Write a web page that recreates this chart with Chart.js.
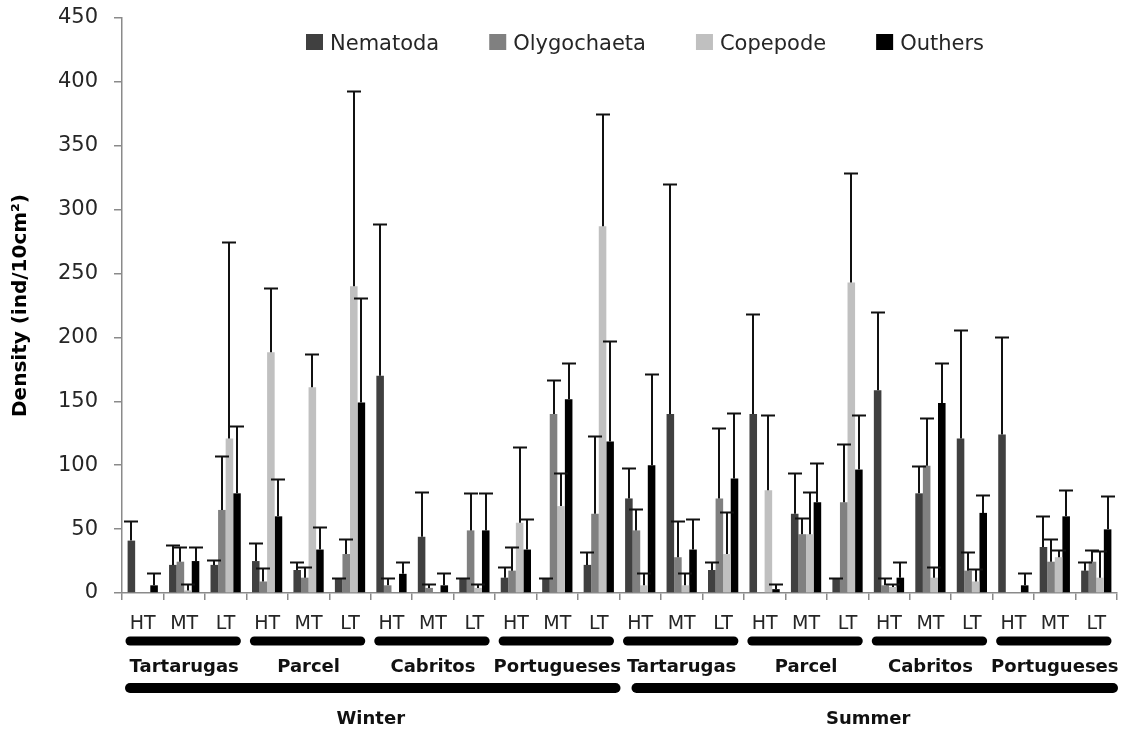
<!DOCTYPE html>
<html>
<head>
<meta charset="utf-8">
<script src="https://cdn.jsdelivr.net/npm/chart.js@4/dist/chart.umd.min.js"></script>
<style>
  html, body { margin: 0; padding: 0; background: #ffffff; }
  #wrap { width: 1127px; height: 734px; position: relative; }
</style>
</head>
<body>
<div id="wrap"><canvas id="chart"></canvas></div>
<script>
// Sampling design: two seasons x four sites x three tide levels
const seasons = ['Winter', 'Summer'];
const sites = ['Tartarugas', 'Parcel', 'Cabritos', 'Portugueses'];
const levels = ['HT', 'MT', 'LT'];

const seriesNames = ['Nematoda', 'Olygochaeta', 'Copepode', 'Outhers'];
const seriesColors = ['#404040', '#808080', '#c0c0c0', '#000000'];

// Mean density (ind/10cm²), one value per season/site/level
const nematoda    = [41, 22, 22, 25, 18, 11.5, 170, 44, 11.5, 12, 11.5, 22,
                     74, 140, 18, 140, 62, 11.5, 158.6, 78, 121, 124, 36, 17.5];
const olygochaeta = [0, 24.5, 65, 9, 12, 30.5, 6, 4, 49, 17.5, 140, 62,
                     49, 28, 74, 0, 46, 71, 6, 99.5, 17.5, 0, 24.5, 24.5];
const copepode    = [0, 2, 121, 188.5, 161, 240, 0, 0, 4, 55, 68, 287,
                     6, 6, 30.5, 80.5, 46, 243, 4.7, 12, 9, 0, 28, 12];
const outhers     = [6, 25, 78, 60, 34, 149, 15, 6, 49, 34, 151.6, 118.5,
                     100, 34, 89.6, 3, 71, 96.6, 12, 148.7, 62.7, 6, 60, 49.8];

// Standard deviation (upper error bar)
const nematodaSd    = [15, 15.5, 4, 14, 6.5, 0.5, 119, 35, 0.5, 8.5, 0.5, 10,
                       24, 180, 6.5, 78, 31.6, 0.5, 61.4, 21.5, 85, 76, 24, 7];
const olygochaetaSd = [0, 11.5, 42, 10.5, 8.5, 11.5, 6, 3, 29, 18.5, 27, 61,
                       17, 28, 55.5, 0, 13, 46, 6, 37.5, 14.5, 0, 17.5, 9];
const copepodeSd    = [0, 5, 154, 50.5, 26, 153, 0, 0, 3, 59, 25.6, 88,
                       10, 10, 33, 59, 33, 86, 2.3, 8.5, 9.5, 0, 5.6, 21];
const outhersSd     = [10, 11, 53, 29, 18, 82, 9.5, 10, 29, 23.6, 28.4, 78.5,
                       71.6, 23.6, 51.4, 4, 31, 43, 12.5, 31.3, 13.9, 10, 20.5, 26.2];

const yTicks = [0, 50, 100, 150, 200, 250, 300, 350, 400, 450];

const seriesValues = [nematoda, olygochaeta, copepode, outhers];
const seriesSd = [nematodaSd, olygochaetaSd, copepodeSd, outhersSd];

// One category per season/site/level, labelled with the level only
const categories = [];
seasons.forEach(() => sites.forEach(() => levels.forEach(l => categories.push(l))));

const FONT = "'DejaVu Sans', 'Open Sans', sans-serif";
const TEXT = '#262626';
const AXIS = '#8a8a8a';

// Upper error bars with a cap, drawn over the bars
const errorBarPlugin = {
  id: 'errorBars',
  afterDatasetsDraw(chart) {
    const ctx = chart.ctx;
    const y = chart.scales.y;
    ctx.save();
    ctx.strokeStyle = '#111111';
    ctx.lineWidth = 2;
    chart.data.datasets.forEach((ds, di) => {
      const meta = chart.getDatasetMeta(di);
      meta.data.forEach((bar, i) => {
        const v = ds.data[i];
        const sd = ds.sd[i];
        if (!v || !sd) return;
        const top = Math.round(y.getPixelForValue(v + sd)) + 0.5;
        const x = Math.round(bar.x);
        ctx.beginPath();
        ctx.moveTo(x, bar.y);
        ctx.lineTo(x, top);
        ctx.moveTo(x - 7, top);
        ctx.lineTo(x + 7, top);
        ctx.stroke();
      });
    });
    ctx.restore();
  }
};

// Legend row inside the plot area
const legendPlugin = {
  id: 'legendRow',
  afterDraw(chart) {
    const ctx = chart.ctx;
    ctx.save();
    ctx.font = `21px ${FONT}`;
    ctx.textBaseline = 'alphabetic';
    let x = 306;
    const yBox = 34;
    chart.data.datasets.forEach(ds => {
      ctx.fillStyle = ds.backgroundColor;
      ctx.fillRect(x, yBox, 17, 16);
      ctx.fillStyle = TEXT;
      ctx.fillText(ds.label, x + 24, yBox + 16);
      x += 24 + ctx.measureText(ds.label).width + 50;
    });
    ctx.restore();
  }
};

// Site and season groupings under the level labels
const groupPlugin = {
  id: 'groups',
  afterDraw(chart) {
    const ctx = chart.ctx;
    const xs = chart.scales.x;
    const half = (xs.getPixelForValue(1) - xs.getPixelForValue(0)) / 2;
    const left = i => xs.getPixelForValue(i) - half;
    const right = i => xs.getPixelForValue(i) + half;
    ctx.save();
    ctx.strokeStyle = '#000000';
    ctx.lineCap = 'round';
    ctx.fillStyle = '#111111';
    ctx.textAlign = 'center';
    ctx.textBaseline = 'alphabetic';
    const perSeason = sites.length * levels.length;
    seasons.forEach((season, si) => {
      sites.forEach((site, gi) => {
        const a = si * perSeason + gi * levels.length;
        const b = a + levels.length - 1;
        const x0 = left(a) + 8, x1 = right(b) - 10;
        ctx.lineWidth = 9;
        ctx.beginPath();
        ctx.moveTo(x0, 641);
        ctx.lineTo(x1, 641);
        ctx.stroke();
        ctx.font = `bold 18px ${FONT}`;
        ctx.fillText(site, (left(a) + right(b)) / 2, 672);
      });
      const a = si * perSeason, b = a + perSeason - 1;
      const x0 = left(a) + (si === 0 ? 8 : 17), x1 = right(b) - 4;
      ctx.lineWidth = 10;
      ctx.beginPath();
      ctx.moveTo(x0, 688);
      ctx.lineTo(x1, 688);
      ctx.stroke();
      ctx.font = `bold 18px ${FONT}`;
      ctx.fillText(season, (left(a) + right(b)) / 2, 724);
    });
    ctx.restore();
  }
};

new Chart(document.getElementById('chart'), {
  type: 'bar',
  data: {
    labels: categories,
    datasets: seriesNames.map((name, i) => ({
      label: name,
      data: seriesValues[i],
      sd: seriesSd[i],
      backgroundColor: seriesColors[i],
      borderWidth: 0,
      categoryPercentage: 0.73,
      barPercentage: 1.0
    }))
  },
  options: {
    responsive: true,
    maintainAspectRatio: false,
    animation: false,
    layout: { padding: { top: 18, right: 10, left: 0, bottom: 0 } },
    plugins: {
      legend: { display: false },
      tooltip: { enabled: false }
    },
    scales: {
      x: {
        grid: { offset: true, drawOnChartArea: false, tickLength: 7, color: AXIS, lineWidth: 1.5 },
        border: { color: AXIS, width: 1.5 },
        ticks: { color: TEXT, font: { family: FONT, size: 19 }, padding: 13, maxRotation: 0, autoSkip: false },
        afterFit(scale) { scale.height = 141; }
      },
      y: {
        min: 0,
        max: 450,
        afterBuildTicks(scale) { scale.ticks = yTicks.map(v => ({ value: v })); },
        grid: { drawOnChartArea: false, tickLength: 8, color: AXIS, lineWidth: 1.5 },
        border: { color: AXIS, width: 1.5 },
        ticks: { color: TEXT, font: { family: FONT, size: 21 }, padding: 16 },
        title: {
          display: true,
          text: 'Density (ind/10cm²)',
          color: '#000000',
          font: { family: FONT, size: 20, weight: 'bold' },
          padding: { top: 9, bottom: 0 }
        },
        afterFit(scale) {
          scale.width = 122;
          scale.paddingTop = 0;
          scale.paddingBottom = 0;
        }
      }
    }
  },
  plugins: [errorBarPlugin, legendPlugin, groupPlugin]
});
</script>
</body>
</html>
